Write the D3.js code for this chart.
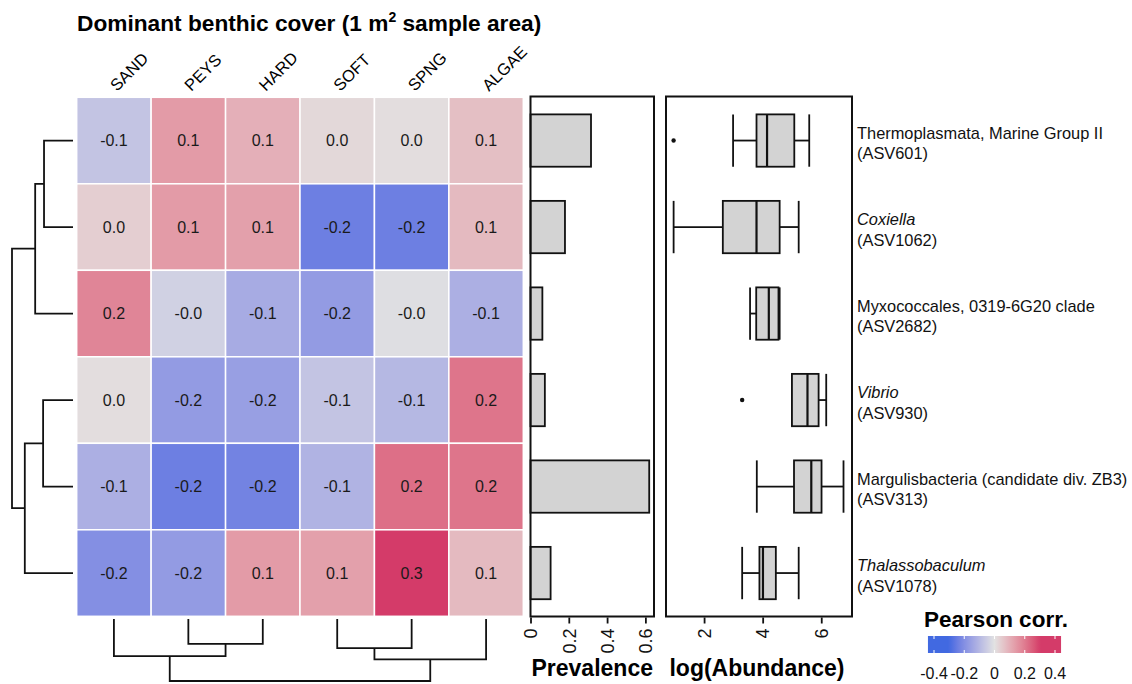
<!DOCTYPE html>
<html><head><meta charset="utf-8">
<script src="https://cdn.jsdelivr.net/npm/d3@7"></script>
<style>
html,body{margin:0;padding:0;background:#fff;}
svg{display:block;font-family:"Liberation Sans",Arial,Helvetica,sans-serif;}
</style></head><body>
<svg id="chart" width="1132" height="684"></svg>
<script>
// Benthic cover categories (heatmap columns)
const covers = ["SAND", "PEYS", "HARD", "SOFT", "SPNG", "ALGAE"];

// Taxa (heatmap rows), with their ASV identifiers
const taxa = [
  "Thermoplasmata, Marine Group II",
  "Coxiella",
  "Myxococcales, 0319-6G20 clade",
  "Vibrio",
  "Margulisbacteria (candidate div. ZB3)",
  "Thalassobaculum"
];
const asvIds = ["ASV601", "ASV1062", "ASV2682", "ASV930", "ASV313", "ASV1078"];
const italicTaxon = [false, true, false, true, false, true];

// Pearson correlation of each taxon with each cover type
const corrThermoplasmata = [-0.07, 0.14, 0.10, 0.02, 0.01, 0.07];
const corrCoxiella = [0.04, 0.14, 0.13, -0.24, -0.24, 0.08];
const corrMyxococcales = [0.18, -0.04, -0.13, -0.17, -0.01, -0.12];
const corrVibrio = [0.01, -0.17, -0.16, -0.07, -0.10, 0.21];
const corrMargulisbacteria = [-0.12, -0.24, -0.23, -0.11, 0.22, 0.21];
const corrThalassobaculum = [-0.20, -0.17, 0.14, 0.13, 0.30, 0.08];
const corrMatrix = [corrThermoplasmata, corrCoxiella, corrMyxococcales,
                    corrVibrio, corrMargulisbacteria, corrThalassobaculum];

// Prevalence (fraction of samples) per taxon
const prevalence = [0.316, 0.180, 0.062, 0.075, 0.620, 0.105];

// log(Abundance) box-plot summaries per taxon
const abundWhiskerLow = [2.99, 0.96, 3.57, 5.00, 3.80, 3.30];
const abundQ1 = [3.79, 2.64, 3.78, 5.00, 5.07, 3.89];
const abundMedian = [4.15, 3.79, 4.21, 5.53, 5.66, 4.01];
const abundQ3 = [5.08, 4.58, 4.54, 5.91, 6.01, 4.45];
const abundWhiskerHigh = [5.59, 5.23, 4.58, 6.17, 6.76, 5.23];
const abundOutliers = [[0.96], [], [], [3.30], [], []];

// Hierarchical clustering (hclust-style merge table: negative = leaf, positive = earlier merge)
const rowMerge = [[-1, -2], [-4, -5], [1, -3], [2, -6], [3, 4]];
const rowMergeHeight = [0.475, 0.49, 0.62, 0.79, 1.0];
const colMerge = [[-2, -3], [-4, -5], [-1, 1], [2, -6], [3, 4]];
const colMergeHeight = [0.40, 0.47, 0.60, 0.65, 1.0];

// Axis ticks
const prevalenceTicks = [0, 0.2, 0.4, 0.6];
const abundanceTicks = [2, 4, 6];
const legendTicks = [-0.4, -0.2, 0, 0.2, 0.4];

const svg = d3.select("#chart");
const FONT = '"Liberation Sans", Arial, Helvetica, sans-serif';
const INK = "#111";
const rows = d3.range(taxa.length);

// ---- Layout ----
const hmLeft = 76.7, hmRight = 523.3, hmTop = 97.3, hmBottom = 616.3;

const xCover = d3.scaleBand().domain(covers).range([hmLeft, hmRight]);
const yRow = d3.scaleBand().domain(rows).range([hmTop, hmBottom]);
const yBar = d3.scaleBand().domain(rows).range([hmTop, hmBottom])
  .paddingInner(0.395).paddingOuter(0.1975);

const color = d3.scaleLinear()
  .domain([-0.3, 0, 0.3])
  .range(["#4169E1", "#E2E2E2", "#D43B69"])
  .interpolate(d3.interpolateLab)
  .clamp(true);

// ---- Title ----
const title = svg.append("text")
  .attr("x", 77).attr("y", 31)
  .attr("font-size", 22.7).attr("font-weight", "bold").attr("fill", "#000");
title.append("tspan").text("Dominant benthic cover (1 m");
title.append("tspan").attr("font-size", 14).attr("dy", -9).text("2");
title.append("tspan").attr("dy", 9).text(" sample area)");

// ---- Column labels ----
svg.append("g").selectAll("text")
  .data(covers).join("text")
  .attr("transform", d => `translate(${xCover(d) + xCover.bandwidth() / 2 + 3},92) rotate(-45)`)
  .attr("font-size", 16.5).attr("fill", "#000")
  .text(d => d);

// ---- Heatmap cells ----
const cells = [];
rows.forEach(r => covers.forEach((c, j) => cells.push({r, c, v: corrMatrix[r][j]})));

const cellG = svg.append("g");
cellG.selectAll("rect").data(cells).join("rect")
  .attr("x", d => xCover(d.c)).attr("y", d => yRow(d.r))
  .attr("width", xCover.bandwidth()).attr("height", yRow.bandwidth())
  .attr("fill", d => color(d.v))
  .attr("stroke", "#fff").attr("stroke-width", 1.5);
cellG.selectAll("text").data(cells).join("text")
  .attr("x", d => xCover(d.c) + xCover.bandwidth() / 2)
  .attr("y", d => yRow(d.r) + yRow.bandwidth() / 2)
  .attr("dy", "0.36em").attr("text-anchor", "middle")
  .attr("font-size", 16).attr("fill", "#1a1a1a")
  .text(d => d.v.toFixed(1));

// ---- Dendrograms ----
function dendrogram(merge, heights, leafPos, hScale, horizontal) {
  const nodePos = [], nodeH = [];
  const segs = [];
  merge.forEach((pair, i) => {
    const kids = pair.map(c => c < 0 ? {p: leafPos(-c - 1), h: 0} : {p: nodePos[c - 1], h: nodeH[c - 1]});
    const H = heights[i];
    nodePos[i] = (kids[0].p + kids[1].p) / 2;
    nodeH[i] = H;
    const pt = (p, h) => horizontal ? [hScale(h), p] : [p, hScale(h)];
    segs.push([pt(kids[0].p, kids[0].h), pt(kids[0].p, H), pt(kids[1].p, H), pt(kids[1].p, kids[1].h)]);
  });
  return segs;
}
const line = d3.line();

const rowH = d3.scaleLinear().domain([0, 1]).range([73, 12]);
const rowSegs = dendrogram(rowMerge, rowMergeHeight, i => yRow(i) + yRow.bandwidth() / 2, rowH, true);
svg.append("g").selectAll("path").data(rowSegs).join("path")
  .attr("d", line).attr("fill", "none").attr("stroke", INK).attr("stroke-width", 1.8);

const colH = d3.scaleLinear().domain([0, 1]).range([619, 681]);
const colSegs = dendrogram(colMerge, colMergeHeight, j => xCover(covers[j]) + xCover.bandwidth() / 2, colH, false);
svg.append("g").selectAll("path").data(colSegs).join("path")
  .attr("d", line).attr("fill", "none").attr("stroke", INK).attr("stroke-width", 1.8);

// ---- Prevalence bar panel ----
const xPrev = d3.scaleLinear().domain([0, 0.645]).range([530.5, 654]);
const prevG = svg.append("g");
prevG.selectAll("rect.bar").data(rows).join("rect").attr("class", "bar")
  .attr("x", xPrev(0)).attr("y", i => yBar(i))
  .attr("width", i => xPrev(prevalence[i]) - xPrev(0)).attr("height", yBar.bandwidth())
  .attr("fill", "#D3D3D3").attr("stroke", INK).attr("stroke-width", 1.8);
prevG.append("rect")
  .attr("x", xPrev.range()[0]).attr("y", 96.5)
  .attr("width", xPrev.range()[1] - xPrev.range()[0]).attr("height", 520)
  .attr("fill", "none").attr("stroke", INK).attr("stroke-width", 2);

function rotatedAxis(scale, ticks, yPos) {
  const g = svg.append("g").attr("transform", `translate(0,${yPos})`)
    .call(d3.axisBottom(scale).tickValues(ticks).tickSize(6).tickFormat(d3.format("")));
  g.select(".domain").remove();
  g.selectAll(".tick line").attr("stroke", INK).attr("stroke-width", 1.8);
  g.selectAll(".tick text")
    .attr("transform", "rotate(-90)")
    .attr("x", -11).attr("y", 0).attr("dy", "0.35em")
    .attr("text-anchor", "end")
    .attr("font-family", FONT).attr("font-size", 18).attr("fill", INK);
  return g;
}
rotatedAxis(xPrev, prevalenceTicks, 617.5);

svg.append("text")
  .attr("x", (xPrev.range()[0] + xPrev.range()[1]) / 2).attr("y", 676)
  .attr("text-anchor", "middle").attr("font-size", 23).attr("font-weight", "bold")
  .text("Prevalence");

// ---- log(Abundance) box-plot panel ----
const xAb = d3.scaleLinear().domain([0.70, 7.05]).range([666, 852]);
const boxG = svg.append("g");
rows.forEach(i => {
  const y0 = yBar(i), h = yBar.bandwidth(), yc = y0 + h / 2;
  const g = boxG.append("g").attr("stroke", INK).attr("stroke-width", 1.8);
  g.append("line").attr("x1", xAb(abundWhiskerLow[i])).attr("x2", xAb(abundQ1[i])).attr("y1", yc).attr("y2", yc);
  g.append("line").attr("x1", xAb(abundQ3[i])).attr("x2", xAb(abundWhiskerHigh[i])).attr("y1", yc).attr("y2", yc);
  [abundWhiskerLow[i], abundWhiskerHigh[i]].forEach(v =>
    g.append("line").attr("x1", xAb(v)).attr("x2", xAb(v)).attr("y1", y0).attr("y2", y0 + h));
  g.append("rect").attr("x", xAb(abundQ1[i])).attr("y", y0)
    .attr("width", xAb(abundQ3[i]) - xAb(abundQ1[i])).attr("height", h)
    .attr("fill", "#D3D3D3");
  g.append("line").attr("x1", xAb(abundMedian[i])).attr("x2", xAb(abundMedian[i]))
    .attr("y1", y0).attr("y2", y0 + h).attr("stroke-width", 2.2);
  abundOutliers[i].forEach(v =>
    boxG.append("circle").attr("cx", xAb(v)).attr("cy", yc).attr("r", 2.2).attr("fill", INK));
});
boxG.append("rect")
  .attr("x", xAb.range()[0]).attr("y", 96.5)
  .attr("width", xAb.range()[1] - xAb.range()[0]).attr("height", 520)
  .attr("fill", "none").attr("stroke", INK).attr("stroke-width", 2);
rotatedAxis(xAb, abundanceTicks, 617.5);

svg.append("text")
  .attr("x", 757).attr("y", 676)
  .attr("text-anchor", "middle").attr("font-size", 23).attr("font-weight", "bold")
  .text("log(Abundance)");

// ---- Row labels ----
const labG = svg.append("g").attr("font-size", 16.4).attr("fill", INK);
rows.forEach(i => {
  const yc = yRow(i) + yRow.bandwidth() / 2;
  labG.append("text").attr("x", 857).attr("y", yc - 2)
    .attr("font-style", italicTaxon[i] ? "italic" : "normal").text(taxa[i]);
  labG.append("text").attr("x", 857).attr("y", yc + 18.5).text(`(${asvIds[i]})`);
});

// ---- Colour legend ----
const xLeg = d3.scaleLinear().domain([-0.4, 0.4]).range([934, 1055]);
const legTop = 636, legH = 17;
const defs = svg.append("defs");
const grad = defs.append("linearGradient").attr("id", "corrGrad")
  .attr("x1", "0%").attr("x2", "100%").attr("y1", "0%").attr("y2", "0%");
const legMin = -0.44, legMax = 0.44;
d3.range(0, 1.0001, 0.025).forEach(t => {
  grad.append("stop").attr("offset", `${t * 100}%`).attr("stop-color", color(legMin + t * (legMax - legMin)));
});
svg.append("rect").attr("x", xLeg(legMin)).attr("y", legTop)
  .attr("width", xLeg(legMax) - xLeg(legMin)).attr("height", legH)
  .attr("fill", "url(#corrGrad)");
const legG = svg.append("g");
legendTicks.forEach(v => {
  legG.append("line").attr("x1", xLeg(v)).attr("x2", xLeg(v)).attr("y1", legTop).attr("y2", legTop + 3)
    .attr("stroke", "#fff").attr("stroke-width", 1);
  legG.append("line").attr("x1", xLeg(v)).attr("x2", xLeg(v)).attr("y1", legTop + legH - 3).attr("y2", legTop + legH)
    .attr("stroke", "#fff").attr("stroke-width", 1);
  legG.append("text").attr("x", xLeg(v)).attr("y", 679)
    .attr("text-anchor", "middle").attr("font-size", 16).attr("fill", INK)
    .text(d3.format("")(v).replace("−", "-"));
});
svg.append("text")
  .attr("x", 996).attr("y", 627).attr("text-anchor", "middle")
  .attr("font-size", 22.5).attr("font-weight", "bold").text("Pearson corr.")
</script>
</body></html>
